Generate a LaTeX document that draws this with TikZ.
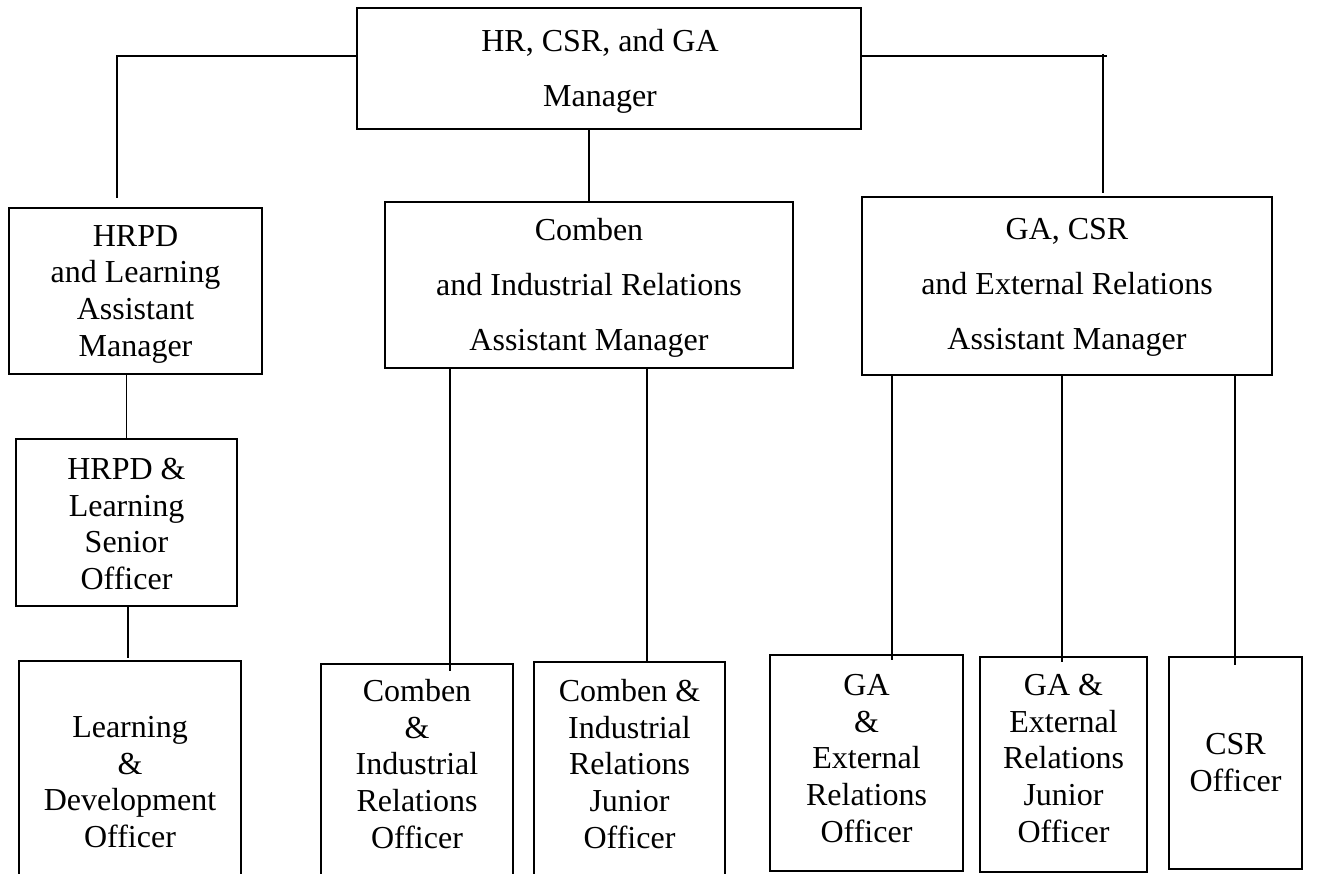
\documentclass[tikz,border=0pt]{standalone}
\usepackage{fontspec}
\setmainfont{Liberation Serif}
\begin{document}
\begin{tikzpicture}[x=1pt,y=-1pt,
  box/.style={draw, line width=1.1pt, inner sep=0pt, outer sep=0pt},
  txt/.style={inner sep=0pt, anchor=north, align=center,
              font=\fontsize{32}{36.8}\selectfont},
  wide/.style={font=\fontsize{32}{55.2}\selectfont},
  link/.style={line width=1.2pt}]
\clip (0,0) rectangle (1318,874);
\fill[white] (0,0) rectangle (1318,874);

% boxes
\node[box, minimum width=504pt, minimum height=121pt] (top) at (609,68.5) {};
\node[box, minimum width=253pt, minimum height=166pt] (hrpd) at (135.5,291) {};
\node[box, minimum width=408pt, minimum height=166pt] (cam) at (589,285) {};
\node[box, minimum width=410pt, minimum height=178pt] (gam) at (1067,286) {};
\node[box, minimum width=221pt, minimum height=167pt] (sen) at (126.5,522.5) {};
\node[box, minimum width=222pt, minimum height=239pt] (lrn) at (130,780.5) {};
\node[box, minimum width=192pt, minimum height=236pt] (cof) at (417,782) {};
\node[box, minimum width=191pt, minimum height=238pt] (cjr) at (629.5,781) {};
\node[box, minimum width=193pt, minimum height=216pt] (gof) at (866.5,763) {};
\node[box, minimum width=167pt, minimum height=215pt] (gjr) at (1063.5,764.5) {};
\node[box, minimum width=133pt, minimum height=212pt] (csr) at (1235.5,763) {};

% labels: each starts with a strut reaching 25pt above its first baseline
\node[txt, wide] (top-t) at (600,26.5)
  {\rule{0pt}{25pt}HR, CSR, and GA\\Manager};
\node[txt] (hrpd-t) at (135.5,221)
  {\rule{0pt}{25pt}HRPD\\and Learning\\Assistant\\Manager};
\node[txt, wide] (cam-t) at (589,215)
  {\rule{0pt}{25pt}Comben\\and Industrial Relations\\Assistant Manager};
\node[txt, wide] (gam-t) at (1067,214)
  {\rule{0pt}{25pt}GA, CSR\\and External Relations\\Assistant Manager};
\node[txt] (sen-t) at (126.5,454)
  {\rule{0pt}{25pt}HRPD \&\\Learning\\Senior\\Officer};
\node[txt] (lrn-t) at (130,712)
  {\rule{0pt}{25pt}Learning\\\&\\Development\\Officer};
\node[txt] (cof-t) at (417,676)
  {\rule{0pt}{25pt}Comben\\\&\\Industrial\\Relations\\Officer};
\node[txt] (cjr-t) at (629.5,676)
  {\rule{0pt}{25pt}Comben \&\\Industrial\\Relations\\Junior\\Officer};
\node[txt] (gof-t) at (866.5,670)
  {\rule{0pt}{25pt}GA\\\&\\External\\Relations\\Officer};
\node[txt] (gjr-t) at (1063.5,670)
  {\rule{0pt}{25pt}GA \&\\External\\Relations\\Junior\\Officer};
\node[txt] (csr-t) at (1235.5,729)
  {\rule{0pt}{25pt}CSR\\Officer};

% free ends of the connectors
\coordinate (hrpd-in) at (117,198);
\coordinate (gam-corner) at (1103,56);
\coordinate (gam-in) at (1103,193);
\coordinate (lrn-in) at (128,658);
\coordinate (cof-in) at (450,671);
\coordinate (cjr-in) at (647,662);
\coordinate (gof-in) at (892,660);
\coordinate (gjr-in) at (1062,662);
\coordinate (csr-in) at (1235,665);

% connectors
\draw[link] ([yshift=12.5pt]top.west) -| (hrpd-in);
\draw[link] (cam.north) -- (cam.north |- top.south);
\draw[link] ([yshift=12.5pt]top.east) -- ([xshift=4pt]gam-corner);
\draw[link] ([yshift=2pt]gam-corner) -- (gam-in);
\draw[link] (sen.north) -- (sen.north |- hrpd.south);
\draw[link] (lrn-in |- sen.south) -- (lrn-in);
\draw[link] (cof-in |- cam.south) -- (cof-in);
\draw[link] (cjr-in |- cam.south) -- (cjr-in);
\draw[link] (gof-in |- gam.south) -- (gof-in);
\draw[link] (gjr-in |- gam.south) -- (gjr-in);
\draw[link] (csr-in |- gam.south) -- (csr-in);
\end{tikzpicture}
\end{document}
